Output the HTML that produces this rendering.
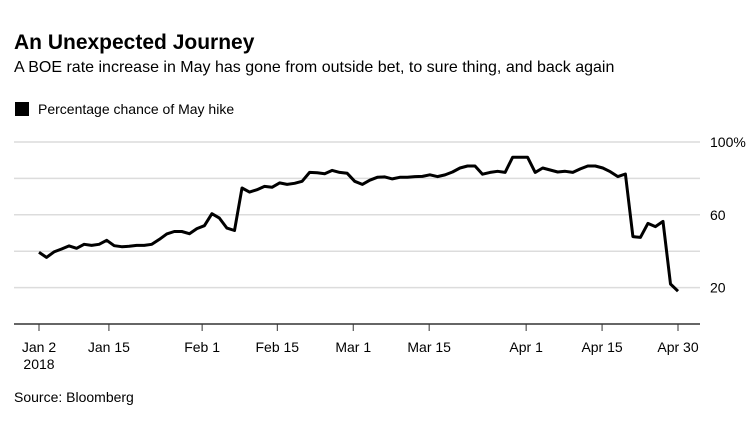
<!DOCTYPE html>
<html><head><meta charset="utf-8"><style>
body{margin:0;background:#fff;width:756px;height:432px;overflow:hidden;font-family:"Liberation Sans",Arial,sans-serif;}
svg{display:block}
</style></head><body>
<svg width="756" height="432">
<text x="14" y="49" font-size="21" font-weight="bold" fill="#000">An Unexpected Journey</text>
<text x="14" y="72" font-size="16" fill="#000">A BOE rate increase in May has gone from outside bet, to sure thing, and back again</text>
<rect x="15" y="102" width="14" height="14" fill="#000"/>
<text x="38" y="114" font-size="14" fill="#000">Percentage chance of May hike</text>
<g id="grid"></g>
<g id="xaxis"></g>
<path id="line" fill="none" stroke="#000" stroke-width="3" stroke-linejoin="round"/>
<text x="14" y="402" font-size="14" fill="#000">Source: Bloomberg</text>
</svg>
<script>
const values=[39.4,36.6,39.6,41.2,42.9,41.6,43.8,43.2,43.8,46.0,43.0,42.5,42.7,43.2,43.2,43.8,46.5,49.5,50.8,50.8,49.6,52.4,54.0,60.6,58.2,52.7,51.4,74.7,72.5,73.8,75.6,75.1,77.5,76.7,77.3,78.4,83.3,83.1,82.6,84.4,83.3,82.8,78.4,76.7,79.0,80.6,80.8,79.7,80.6,80.6,81.0,81.1,82.0,81.0,81.9,83.5,85.7,86.8,86.8,82.3,83.3,83.9,83.3,91.6,91.6,91.6,83.3,85.7,84.6,83.5,83.9,83.3,85.2,86.8,86.8,85.7,83.7,81.0,82.4,48.0,47.6,55.3,53.5,56.4,22.0,18.0];
const yTicks=[20,40,60,80,100];
const yTickLabels=["20","","60","","100%"];
const xTickPos=[0,9.3,21.7,31.7,41.8,51.9,64.8,74.9,85.0];
const xTickLabels=["Jan 2","Jan 15","Feb 1","Feb 15","Mar 1","Mar 15","Apr 1","Apr 15","Apr 30"];
const NS="http://www.w3.org/2000/svg";
const x0=39,x1=678,yTop=142,yBot=324;
const n=values.length;
function xs(i){return x0+i*(x1-x0)/(n-1);}
function ys(v){return yBot-(v/100)*(yBot-yTop);}
const grid=document.getElementById('grid');
yTicks.forEach((t,k)=>{
 const l=document.createElementNS(NS,'line');
 l.setAttribute('x1',14);l.setAttribute('x2',700);
 l.setAttribute('y1',ys(t));l.setAttribute('y2',ys(t));
 l.setAttribute('stroke','#dcdcdc');l.setAttribute('stroke-width','1.5');
 
 
 grid.appendChild(l);
 if(yTickLabels[k]){
  const tx=document.createElementNS(NS,'text');
  tx.setAttribute('x',710);tx.setAttribute('y',ys(t)+5);
  tx.setAttribute('font-size','14');tx.textContent=yTickLabels[k];
  
  
  grid.appendChild(tx);
 }
});
const xa=document.getElementById('xaxis');
const ax=document.createElementNS(NS,'line');
ax.setAttribute('x1',14);ax.setAttribute('x2',700);ax.setAttribute('y1',yBot);ax.setAttribute('y2',yBot);
ax.setAttribute('stroke','#333');ax.setAttribute('stroke-width','1.5');


xa.appendChild(ax);
xTickPos.forEach((p,k)=>{
 const x=xs(p);
 const t=document.createElementNS(NS,'line');
 t.setAttribute('x1',x);t.setAttribute('x2',x);t.setAttribute('y1',yBot);t.setAttribute('y2',yBot+7);
 t.setAttribute('stroke','#333');t.setAttribute('stroke-width','1');
 
 
 xa.appendChild(t);
 const tx=document.createElementNS(NS,'text');
 tx.setAttribute('x',x);tx.setAttribute('y',352);tx.setAttribute('text-anchor','middle');
 tx.setAttribute('font-size','14');tx.textContent=xTickLabels[k];
 
 
 xa.appendChild(tx);
 if(k===0){
  const yr=document.createElementNS(NS,'text');
  yr.setAttribute('x',x);yr.setAttribute('y',369);yr.setAttribute('text-anchor','middle');
  yr.setAttribute('font-size','14');yr.textContent='2018';
  
  
  xa.appendChild(yr);
 }
});
document.getElementById('line').setAttribute('d',values.map((v,i)=>(i?'L':'M')+xs(i).toFixed(1)+','+ys(v).toFixed(1)).join(''));
</script>
</body></html>
